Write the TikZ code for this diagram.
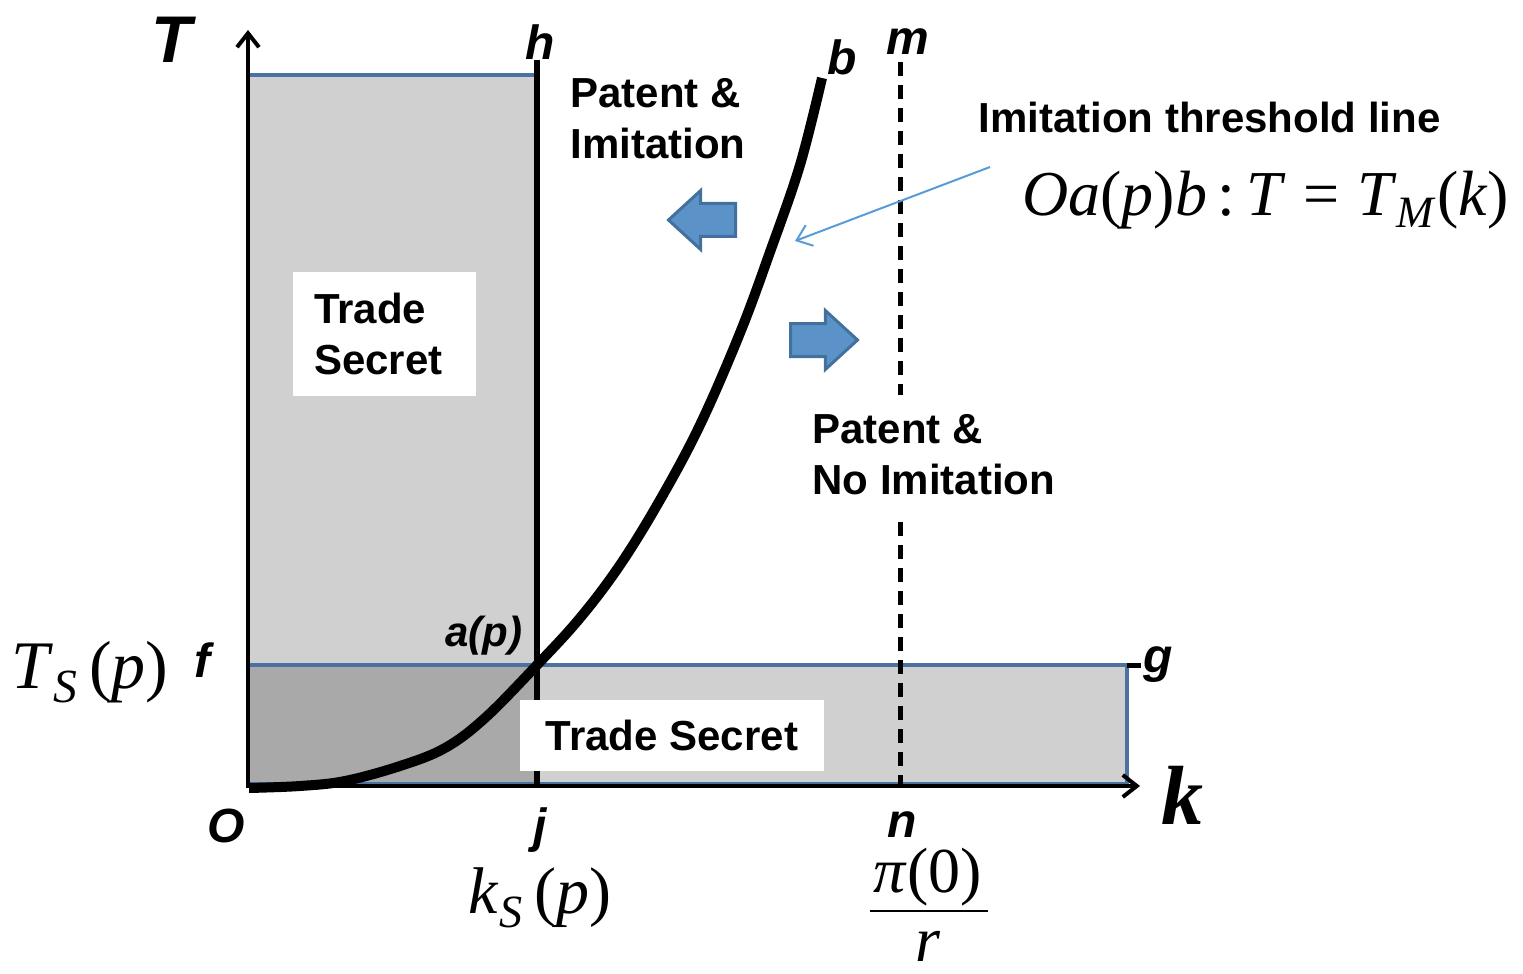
\documentclass[tikz,border=0pt]{standalone}
\usepackage{fontspec}
\setmainfont{Liberation Sans}
\newfontfamily\tms{Liberation Serif}
\usetikzlibrary{arrows.meta, positioning, shapes.arrows}
\definecolor{tline}{HTML}{4A71A0}
\definecolor{tfill}{HTML}{D0D0D0}
\definecolor{tdark}{HTML}{A9A9A9}
\definecolor{tarrow}{HTML}{5B93C9}
\definecolor{tarrowedge}{HTML}{41719C}
\definecolor{tthin}{HTML}{5B9BD5}
\newcommand{\vi}[1]{\itshape #1\/\upshape}
\tikzset{
  lbl/.style={font=\fontsize{24}{24}\selectfont\bfseries\itshape, inner sep=0pt},
  txt/.style={font=\fontsize{21}{25.5}\selectfont\bfseries, align=left, inner sep=0pt},
  serif/.style={font=\fontsize{34}{34}\selectfont\tms, inner sep=0pt},
  wbox/.style={fill=white, font=\fontsize{21}{25.5}\selectfont\bfseries, align=left},
  axis/.style={line width=2.2pt, -{Straight Barb[length=7pt, width=11pt, line width=2pt]}},
  blk/.style={single arrow, draw=tarrowedge, fill=tarrow, line width=1.5pt,
              inner sep=0pt, inner ysep=7.5pt, minimum height=33.5pt,
              single arrow head extend=6.5pt, single arrow tip angle=85},
}
\begin{document}
\begin{tikzpicture}[x=0.5pt, y=-0.5pt]
  \useasboundingbox (0,0) rectangle (1523,974);
  % regions
  \fill[tfill] (250,75) rectangle (537,665);
  \fill[tdark] (250,665) rectangle (537,784);
  \fill[tfill] (537,665) rectangle (1127,784);
  \draw[tline, line width=2pt] (250,75) -- (537,75);
  \draw[tline, line width=2pt] (250,784) -- (1127,784) -- (1127,665) -- (250,665);
  \draw[line width=2.5pt] (1127,665) -- (1141,665);
  % key points
  \coordinate (O) at (248,786);
  \coordinate (ytop) at (248,30);
  \coordinate (xend) at (1140,786);
  \coordinate (htop) at (537,60);
  \coordinate (jbot) at (537,786);
  \coordinate (mtop) at (900,62);
  \coordinate (nbot) at (900,786);
  \draw[line width=2.5pt, dash pattern=on 7pt off 4.5pt] (mtop) -- (nbot);
  \draw[line width=3pt] (htop) -- (jbot);
  % threshold curve
  \draw[line width=5pt, line join=round] plot[smooth, tension=0.6] coordinates {
    (249,788) (300,786) (345,781) (400,766) (445,748) (485,718) (537,665)
    (580,618) (620,565) (660,500) (700,425) (740,333) (770,252) (800,165) (822,78)};
  \draw[axis] (O) -- (ytop);
  \draw[axis] ([xshift=-1pt]O) -- (xend);
  % block arrows
  \node[blk, shape border rotate=180] (left) at (711,220) {};
  \node[blk] (right) at (815,340) {};
  % thin pointer
  \coordinate (thr) at (990,167);
  \coordinate (crv) at (795,241);
  \draw[tthin, line width=1pt, -{Straight Barb[length=7pt, width=11pt]}] (thr) -- (crv);
  % labels
  \node[lbl, font=\fontsize{33}{33}\selectfont\bfseries\itshape] (lT) at (172,40) {T};
  \node[lbl] (lh) at (540,42) {h};
  \node[lbl] (lb) at (842,57) {b};
  \node[lbl] (lm) at (908,42) {m};
  \node[lbl, font=\fontsize{21}{21}\selectfont\bfseries\itshape] (la) at (484,636) {a(p)};
  \node[lbl] (lf) at (202,660) {f};
  \node[lbl] (lg) at (1158,665) {g};
  \node[lbl] (lO) at (226,826) {O};
  \node[lbl] (lj) at (540,830) {j};
  \node[lbl] (ln) at (902,825) {n};
  \node[lbl, font=\fontsize{42}{42}\selectfont\tms\bfseries\itshape] (lk) at (1182,795) {k};
  \node[serif] (Ts) at (90,672) {\vi{T}\textsubscript{\vi{S}}\,(\vi{p})};
  \node[serif, font=\fontsize{33}{33}\selectfont\tms] (ks) at (540,898) {\vi{k}\textsubscript{\vi{S}}\,(\vi{p})};
  \node[serif, font=\fontsize{32}{32}\selectfont\tms] (num) at (928,877) {\vi{π}(0)};
  \node[serif, font=\fontsize{32}{32}\selectfont\tms] (den) at (928,946) {\vi{r}};
  \draw[line width=1pt] (870,911) -- (988,911);
  \node[txt, anchor=north west] (pi) at (570,78) {Patent \&\\Imitation};
  \node[txt, anchor=west] (thl) at (978,117) {Imitation threshold line};
  \node[serif, anchor=west, font=\fontsize{32}{32}\selectfont\tms] (eq) at (1022,200)
    {\vi{Oa}(\vi{p})\vi{b}\,:\,\vi{T}\;=\;\vi{T}\textsubscript{\vi{M}}(\vi{k})};
  \node[wbox, inner xsep=0pt, inner ysep=10pt, anchor=west] (pni) at (812,455) {Patent \&\\No Imitation};
  \node[wbox, minimum width=91.5pt, minimum height=62pt, text width=70.5pt, inner xsep=10.5pt] (ts1) at (384.5,334) {Trade\\Secret};
  \node[wbox, minimum width=152pt, minimum height=35.5pt, align=center] (ts2) at (672,735.5) {Trade Secret};
\end{tikzpicture}
\end{document}
